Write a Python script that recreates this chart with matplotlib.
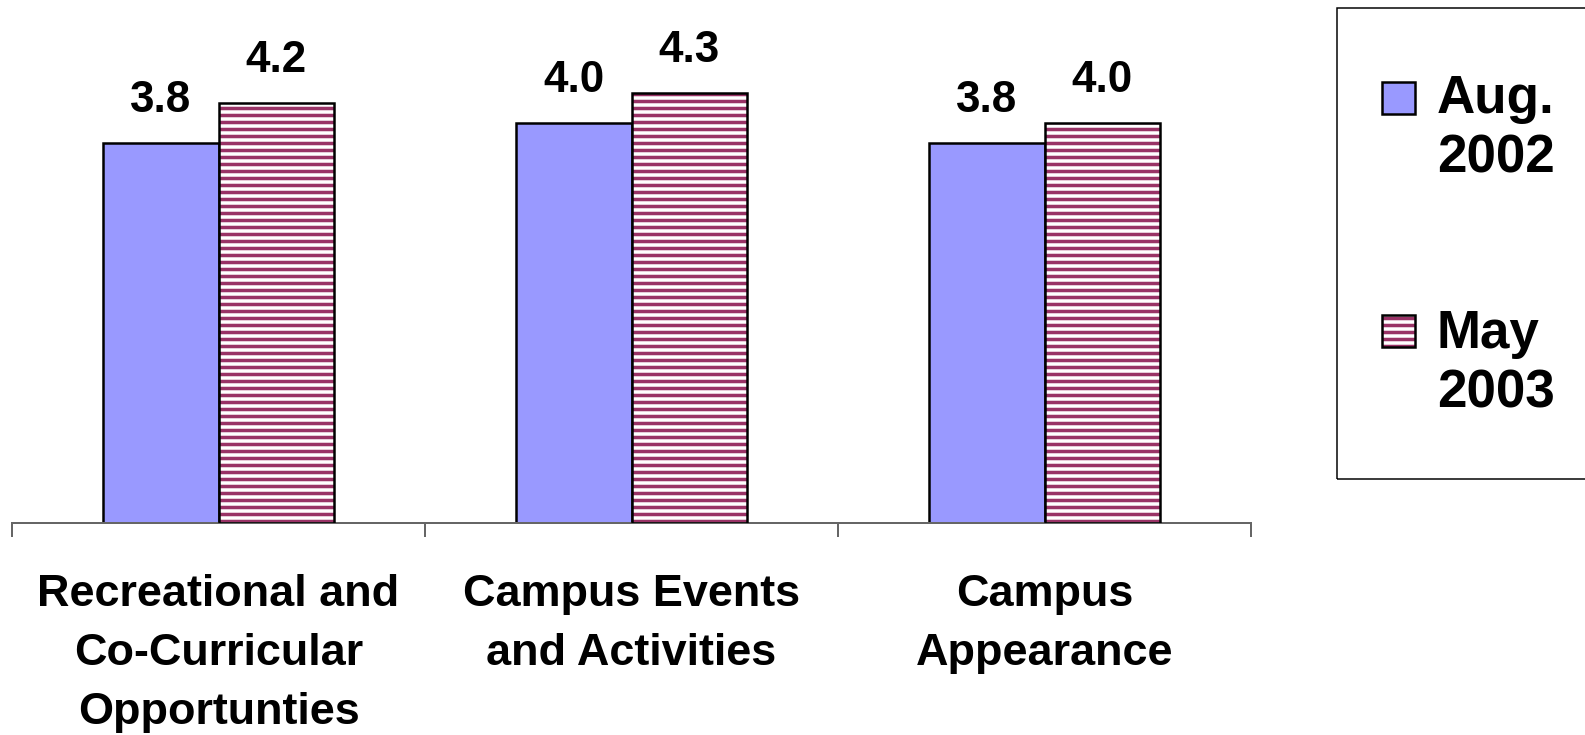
import matplotlib
matplotlib.use("Agg")
import matplotlib.pyplot as plt
from matplotlib.patches import Rectangle

DPI = 84
W, H = 1585, 735

categories = ["Recreational and\nCo-Curricular\nOpportunties",
              "Campus Events\nand Activities",
              "Campus\nAppearance"]
aug_2002 = [3.8, 4.0, 3.8]
may_2003 = [4.2, 4.3, 4.0]
series_names = ["Aug.\n2002", "May\n2003"]

blue = "#9999FF"
maroon = "#993366"


def pt(px):
    # pixel size -> points at the figure dpi
    return px * 72.0 / DPI


plt.rcParams["font.family"] = ["Liberation Sans", "DejaVu Sans"]
plt.rcParams["font.weight"] = "bold"
plt.rcParams["hatch.linewidth"] = pt(3.5)

fig = plt.figure(figsize=(W / DPI, H / DPI), dpi=DPI)
ax = fig.add_axes([12 / W, 1 - 523 / H, (1251 - 12) / W, 523 / H])

x = list(range(len(categories)))
bw = 0.28
xa = [i - bw / 2 for i in x]
xm = [i + bw / 2 for i in x]

ax.bar(xa, aug_2002, width=bw, color=blue, edgecolor="black", linewidth=pt(2.5), zorder=2)
# hatched fill first, then a plain outline on top
ax.bar(xm, may_2003, width=bw, color="white", edgecolor=maroon, hatch="--", linewidth=0, zorder=2)
ax.bar(xm, may_2003, width=bw, fill=False, edgecolor="black", linewidth=pt(2.5), zorder=3)

for xs, vals in ((xa, aug_2002), (xm, may_2003)):
    for xi, v in zip(xs, vals):
        ax.annotate(f"{v:.1f}", (xi, v), xytext=(0, pt(31)), textcoords="offset points",
                    ha="center", va="baseline", fontsize=pt(44), fontweight="bold")

ax.set_xlim(-0.5, 2.5)
ax.set_ylim(0, 5.23)
ax.set_yticks([])
for s in ("left", "right", "top"):
    ax.spines[s].set_visible(False)
ax.spines["bottom"].set_color("#666666")
ax.spines["bottom"].set_linewidth(pt(2))

ax.set_xticks([-0.5, 0.5, 1.5, 2.5])
ax.set_xticklabels([])
ax.tick_params(axis="x", which="major", length=pt(14), width=pt(2), color="#666666")
ax.set_xticks(x, categories, minor=True)
ax.tick_params(axis="x", which="minor", length=0, pad=pt(51))
for lab in ax.get_xticklabels(minor=True):
    lab.set_fontsize(pt(45))
    lab.set_fontweight("bold")
    lab.set_linespacing(1.56)

# legend box, running off the right edge
fig.add_artist(Rectangle((1337 / W, 1 - 479 / H), (1600 - 1337) / W, (479 - 8) / H,
                         transform=fig.transFigure, fill=False, edgecolor="black",
                         linewidth=pt(1.5)))
handles = [dict(facecolor=blue, hatch=None, top=82), dict(facecolor="white", hatch="--", top=315)]
tops = [76, 311]
for h, name, top in zip(handles, series_names, tops):
    r = (1382 / W, 1 - (h["top"] + 32) / H)
    if h["hatch"]:
        fig.add_artist(Rectangle(r, 33 / W, 32 / H, transform=fig.transFigure,
                                 facecolor="white", edgecolor=maroon, hatch="--", linewidth=0))
        fig.add_artist(Rectangle(r, 33 / W, 32 / H, transform=fig.transFigure,
                                 fill=False, edgecolor="black", linewidth=pt(2.5)))
    else:
        fig.add_artist(Rectangle(r, 33 / W, 32 / H, transform=fig.transFigure,
                                 facecolor=h["facecolor"], edgecolor="black", linewidth=pt(2.5)))
    fig.text(1437 / W, 1 - (top - 2) / H, name, ha="left", va="top",
             fontsize=pt(53), fontweight="bold", linespacing=1.25)

fig.savefig("out.png", dpi=DPI)
